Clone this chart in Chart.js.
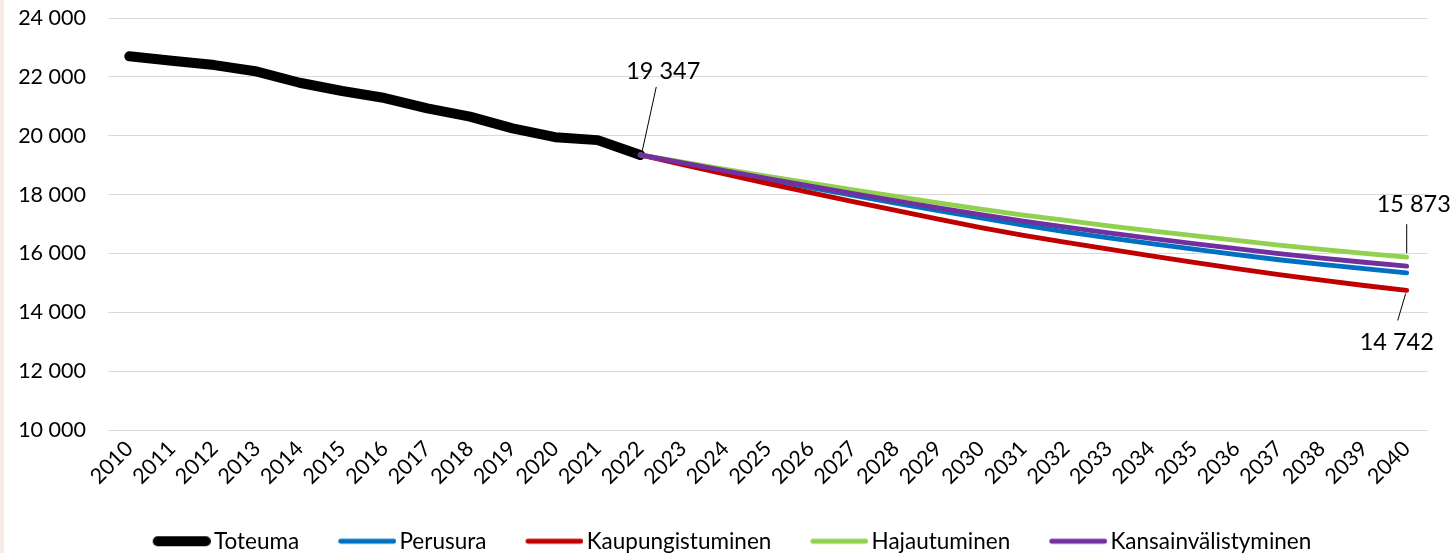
<!DOCTYPE html>
<html><head><meta charset="utf-8">
<script src="https://cdn.jsdelivr.net/npm/chart.js@4.4.1/dist/chart.umd.min.js"></script>
<style>
html,body{margin:0;padding:0;background:#fff;}
#wrap{position:relative;width:1456px;height:553px;overflow:hidden;}
#strip{position:absolute;left:0;top:0;width:4px;height:553px;background:#f8ebe5;}
canvas{position:absolute;left:0;top:0;}
</style></head><body>
<div id="wrap"><div id="strip"></div><canvas id="c" width="1456" height="553"></canvas></div>
<script>
const years = ['2010','2011','2012','2013','2014','2015','2016','2017','2018','2019','2020','2021','2022','2023','2024','2025','2026','2027','2028','2029','2030','2031','2032','2033','2034','2035','2036','2037','2038','2039','2040'];
const yTicks = [10000, 12000, 14000, 16000, 18000, 20000, 22000, 24000];
const seriesNames = ['Toteuma','Perusura','Kaupungistuminen','Hajautuminen','Kansainvälistyminen'];
// 2010-2022
const toteuma = [22700, 22550, 22400, 22180, 21800, 21520, 21280, 20930, 20650, 20250, 19950, 19850, 19347];
// 2022-2040
const perusura = [19347, 19060, 18780, 18505, 18235, 17970, 17710, 17455, 17205, 16965, 16735, 16530, 16335, 16145, 15960, 15785, 15630, 15480, 15340];
const kaupungistuminen = [19347, 19020, 18695, 18375, 18065, 17760, 17460, 17165, 16880, 16615, 16375, 16145, 15920, 15700, 15485, 15280, 15090, 14910, 14742];
const hajautuminen = [19347, 19100, 18855, 18615, 18385, 18160, 17940, 17720, 17505, 17305, 17120, 16940, 16770, 16605, 16440, 16285, 16140, 16005, 15873];
const kansainvalistyminen = [19347, 19075, 18805, 18540, 18285, 18035, 17790, 17550, 17320, 17100, 16895, 16700, 16515, 16335, 16160, 15995, 15840, 15700, 15567];

const FONT = 'Lato';
const fmt = v => String(Math.round(v)).replace(/\B(?=(\d{3})+(?!\d))/g, ' ');
const lead = new Array(years.length - perusura.length).fill(null);
const tail = new Array(years.length - toteuma.length).fill(null);

// legend sample: a 58px line drawn in the right part of a 90px transparent image
function legendLine(color, width) {
  const c = document.createElement('canvas');
  c.width = 90; c.height = 12;
  const g = c.getContext('2d');
  g.strokeStyle = color; g.lineWidth = width; g.lineCap = 'round';
  g.beginPath(); g.moveTo(32 + width / 2, 6); g.lineTo(90 - width / 2, 6); g.stroke();
  return c;
}

function ds(label, data, color, width, order) {
  return {label, data, borderColor: color, backgroundColor: color, borderWidth: width,
    pointRadius: 0, pointHoverRadius: 0, pointStyle: legendLine(color, width),
    tension: 0, borderCapStyle: 'round', borderJoinStyle: 'round',
    spanGaps: false, fill: false, order};
}

const labelSpecs = [
  {ds: 0, idx: 12, dx: 23, dy: -84, line: [[2, -4], [16, -68]]},
  {ds: 3, idx: 30, dx: 7, dy: -53, line: [[0, -4], [0, -33]]},
  {ds: 2, idx: 30, dx: -10, dy: 52, line: [[-1, 3], [-9, 30]]}
];

const labelPlugin = {
  id: 'valueLabels',
  afterLayout(chart) {
    chart.legend.left += 6;
    chart.legend.right += 6;
  },
  afterDatasetsDraw(chart) {
    const ctx = chart.ctx;
    ctx.save();
    labelSpecs.forEach(s => {
      const pt = chart.getDatasetMeta(s.ds).data[s.idx];
      const v = chart.data.datasets[s.ds].data[s.idx];
      ctx.strokeStyle = '#000';
      ctx.lineWidth = 1;
      ctx.beginPath();
      ctx.moveTo(pt.x + s.line[0][0], pt.y + s.line[0][1]);
      ctx.lineTo(pt.x + s.line[1][0], pt.y + s.line[1][1]);
      ctx.stroke();
      ctx.fillStyle = '#000';
      ctx.font = '23.5px ' + FONT;
      ctx.textAlign = 'center';
      ctx.textBaseline = 'middle';
      ctx.fillText(fmt(v), pt.x + s.dx, pt.y + s.dy);
    });
    ctx.restore();
  }
};

new Chart(document.getElementById('c'), {
  type: 'line',
  data: {
    labels: years,
    datasets: [
      ds(seriesNames[0], toteuma.concat(tail), '#000000', 10, 5),
      ds(seriesNames[1], lead.concat(perusura), '#0070C0', 4.8, 4),
      ds(seriesNames[2], lead.concat(kaupungistuminen), '#C00000', 4.8, 3),
      ds(seriesNames[3], lead.concat(hajautuminen), '#92D050', 4.8, 2),
      ds(seriesNames[4], lead.concat(kansainvalistyminen), '#7030A0', 4.8, 1)
    ]
  },
  options: {
    responsive: false,
    animation: false,
    devicePixelRatio: 1,
    layout: {padding: {left: 0, right: 28, top: 0, bottom: 0}},
    plugins: {
      tooltip: {enabled: false},
      legend: {
        position: 'bottom',
        maxHeight: 38,
        labels: {
          usePointStyle: true,
          pointStyleWidth: 74,
          boxHeight: 20,
          padding: 15,
          color: '#000',
          font: {family: FONT, size: 22.5},
          sort: (a, b) => a.datasetIndex - b.datasetIndex
        }
      }
    },
    scales: {
      x: {
        offset: true,
        grid: {display: false},
        border: {display: false},
        ticks: {color: '#000', font: {family: FONT, size: 21.5}, maxRotation: 45, minRotation: 45, autoSkip: false, padding: -2},
        afterFit: s => { s.height = 85; }
      },
      y: {
        min: 10000, max: 24000,
        afterBuildTicks: s => { s.ticks = yTicks.map(v => ({value: v})); },
        grid: {color: '#d9d9d9', lineWidth: 1, drawTicks: false},
        border: {display: false},
        ticks: {color: '#000', font: {family: FONT, size: 21.5}, padding: 22, callback: v => fmt(v)},
        afterFit: s => { s.width = 108; s.paddingTop = 18; }
      }
    }
  },
  plugins: [labelPlugin]
});
</script>
</body></html>
